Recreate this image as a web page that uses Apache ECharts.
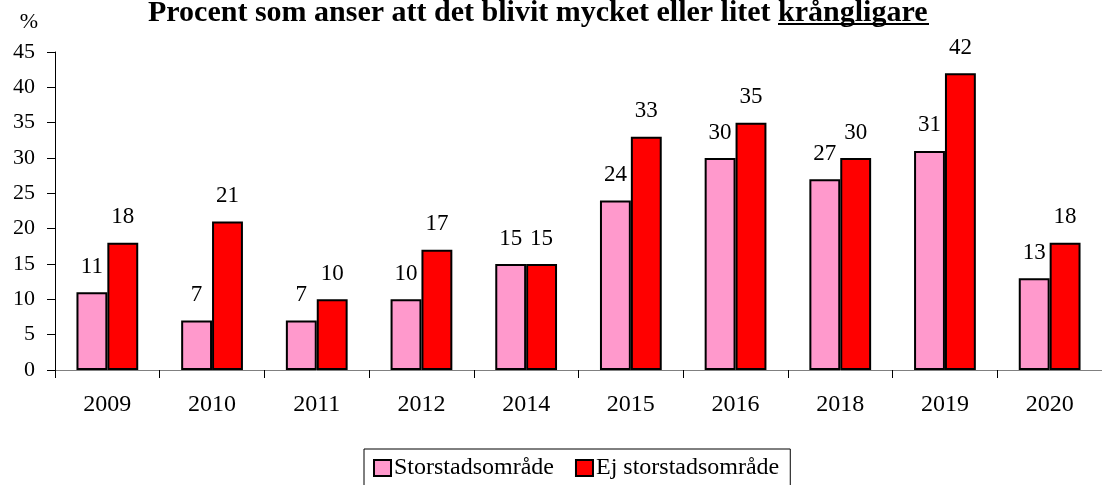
<!DOCTYPE html>
<html>
<head>
<meta charset="utf-8">
<script src="https://cdn.jsdelivr.net/npm/echarts@6/dist/echarts.min.js"></script>
<style>
    html, body { margin: 0; padding: 0; background: #fff; }
</style>
</head>
<body>
<div id="main" style="width:1102px;height:485px;"></div>

<script type="text/javascript">
    // data
    var years = ['2009', '2010', '2011', '2012', '2014', '2015', '2016', '2018', '2019', '2020'];
    var storstad = [11, 7, 7, 10, 15, 24, 30, 27, 31, 13];
    var ejStorstad = [18, 21, 10, 17, 15, 33, 35, 30, 42, 18];
    var yTicks = {min: 0, max: 45, interval: 5};

    var serif = "'Liberation Serif', 'Times New Roman', serif";

    var myChart = echarts.init(document.getElementById('main'));
    myChart.setOption({
        animation: false,
        backgroundColor: '#fff',
        title: {
            text: 'Procent som anser att det blivit mycket eller litet krångligare',
            left: 148,
            top: -2,
            padding: 0,
            textStyle: {
                fontFamily: serif,
                fontWeight: 'bold',
                fontSize: 30,
                color: '#000'
            }
        },
        graphic: [{
            // understrykning av "krångligare"
            type: 'rect',
            shape: {x: 778, y: 23, width: 151, height: 2},
            style: {fill: '#000'}
        }],
        legend: {
            left: 364,
            top: 449,
            padding: [7, 11, 10, 9],
            borderColor: '#000',
            borderWidth: 1,
            itemGap: 21,
            itemWidth: 17,
            itemHeight: 16,
            icon: 'rect',
            textStyle: {
                fontFamily: serif,
                fontSize: 24,
                color: '#000',
                padding: [0, 0, 0, -2]
            },
            data: ['Storstadsområde', 'Ej storstadsområde']
        },
        grid: {
            left: 55,
            right: -10,
            top: 52,
            bottom: 115
        },
        xAxis: {
            type: 'category',
            data: years,
            axisLine: {lineStyle: {color: '#808080', width: 1}},
            axisTick: {show: true, length: 8, lineStyle: {color: '#000'}},
            axisLabel: {
                margin: 23,
                fontFamily: serif,
                fontSize: 24,
                color: '#000'
            }
        },
        yAxis: {
            type: 'value',
            min: yTicks.min,
            max: yTicks.max,
            interval: yTicks.interval,
            name: '%',
            nameLocation: 'end',
            nameGap: 19,
            nameTextStyle: {
                fontFamily: serif,
                fontSize: 22,
                color: '#000',
                align: 'right',
                padding: [0, 17, 0, 0]
            },
            splitLine: {show: false},
            axisLine: {show: true, lineStyle: {color: '#000', width: 1}},
            axisTick: {show: true, length: 8, lineStyle: {color: '#000'}},
            axisLabel: {
                margin: 20,
                fontFamily: serif,
                fontSize: 22,
                color: '#000'
            }
        },
        series: [{
            name: 'Storstadsområde',
            type: 'bar',
            data: storstad,
            barGap: '0%',
            barCategoryGap: '41%',
            itemStyle: {color: '#FF99CC', borderColor: '#000', borderWidth: 2},
            label: {
                show: true,
                position: 'top',
                distance: 14,
                fontFamily: serif,
                fontSize: 23,
                color: '#000'
            }
        }, {
            name: 'Ej storstadsområde',
            type: 'bar',
            data: ejStorstad,
            barGap: '0%',
            barCategoryGap: '41%',
            itemStyle: {color: '#FF0000', borderColor: '#000', borderWidth: 2},
            label: {
                show: true,
                position: 'top',
                distance: 14,
                fontFamily: serif,
                fontSize: 23,
                color: '#000'
            }
        }]
    });
</script>
</body>
</html>
